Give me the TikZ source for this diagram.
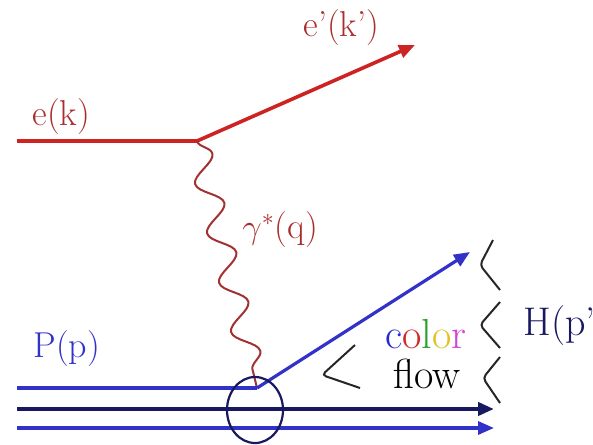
\documentclass[tikz,border=0pt]{standalone}
\usepackage{fontspec}
\usepackage{tikz}
\usetikzlibrary{arrows.meta, decorations.pathmorphing, shapes.geometric}
\definecolor{elec}{RGB}{205,35,35}
\definecolor{elabel}{RGB}{170,45,45}
\definecolor{phot}{RGB}{160,50,50}
\definecolor{quark}{RGB}{50,50,200}
\definecolor{navy}{RGB}{25,25,95}
\definecolor{cblue}{RGB}{40,40,210}
\definecolor{cred}{RGB}{210,40,40}
\definecolor{cgreen}{RGB}{40,160,40}
\definecolor{cyellow}{RGB}{225,195,40}
\definecolor{cpink}{RGB}{210,70,210}

\begin{document}
\begin{tikzpicture}[x=0.5pt, y=-0.5pt, font=\fontsize{18}{20}\selectfont,
    lep/.style={draw=elec, line width=1.8pt},
    qline/.style={draw=quark, line width=1.6pt},
    tip/.style={-{Triangle[length=8pt, width=6.5pt]}},
    boson/.style={draw=phot, line width=1pt, decorate,
      decoration={snake, segment length=25.4pt, amplitude=6pt, pre length=0pt, post length=0pt}},
    chev/.style={draw=black!85, line width=1pt, rounded corners=2pt},
    lbl/.style={anchor=base west, inner sep=0pt},
    big/.style={font=\fontsize{21}{24}\selectfont}]
  \useasboundingbox (0,0) rectangle (593,444);
  \coordinate (ein) at (17,141);
  \coordinate (evtx) at (197,141);
  \coordinate (eout) at (415,45);
  \coordinate (qvtx) at (257,388);
  \coordinate (qout) at (470,252);
  \coordinate (pin1) at (17,388);
  \coordinate (pin2) at (17,409);
  \coordinate (pin3) at (17,428);
  \coordinate (pout2) at (494,409);
  \coordinate (pout3) at (494,428);
  \draw[lep] (ein) -- (evtx);
  \draw[lep, tip] (evtx) -- (eout);
  \draw[boson] (evtx) -- (qvtx);
  \draw[qline] (pin1) -- (qvtx);
  \draw[qline, tip] (qvtx) -- (qout);
  \draw[draw=navy, line width=2pt, tip] (pin2) -- (pout2);
  \draw[qline, tip] (pin3) -- (pout3);
  \node[draw=navy, line width=1.1pt, ellipse, minimum width=28pt, minimum height=33pt, inner sep=0pt] (blob) at (255,410) {};
  \node[lbl, text=elabel] (ek) at (32,126) {e(k)};
  \node[lbl, text=elabel] (ekp) at (303,37) {e’(k’)};
  \node[lbl, text=elabel] (gq) at (242,238) {$\gamma^{*}$(q)};
  \node[lbl, text=quark] (pp) at (33,357) {P(p)};
  \node[lbl, big, text=navy, font=\fontsize{20}{24}\selectfont] (hp) at (523,335) {H(p’)};
  \node[lbl, big] (col) at (385,348) {\textcolor{cblue}{c}\textcolor{cred}{o}\textcolor{cgreen}{l}\textcolor{cyellow}{o}\textcolor{cpink}{r}};
  \node[lbl, big] (flw) at (393,388) {flow};
  \draw[chev] (355,345) -- (322,375) -- (360,388);
  \draw[chev] (493,240) -- (480,265) -- (500,290);
  \draw[chev] (500,302) -- (480,325) -- (500,348);
  \draw[chev] (500,357) -- (483,378) -- (500,403);
\end{tikzpicture}
\end{document}
